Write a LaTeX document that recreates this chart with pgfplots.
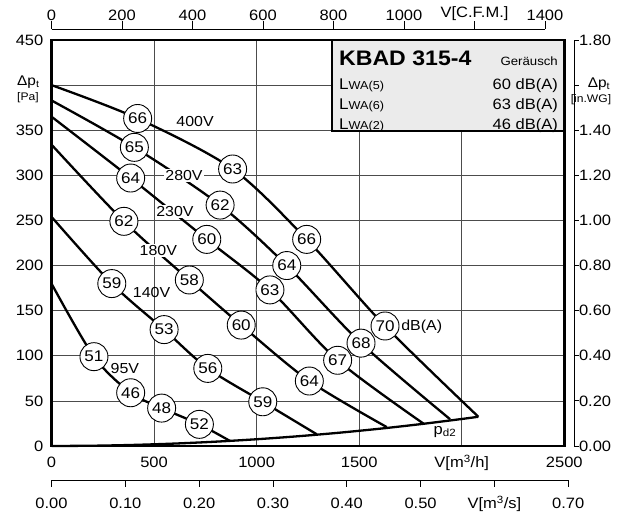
\documentclass[border=0pt]{standalone}
\usepackage{fontspec}
\setmainfont{Liberation Sans}[FakeStretch=1.1]
\usepackage{pgfplots}
\pgfplotsset{compat=1.18}
\newcommand{\fs}[1]{\fontsize{#1}{#1}\selectfont}
\begin{document}
\begin{tikzpicture}[x=1pt,y=1pt]
\useasboundingbox (0,0) rectangle (633,513);
% ---------------- main axis ----------------
\begin{axis}[
  at={(51.5pt,67pt)}, anchor=south west,
  scale only axis, width=512.8pt, height=406pt,
  xmin=0, xmax=2500, ymin=0, ymax=450,
  xtick={0,500,1000,1500,2000,2500},
  xticklabels={0,500,1000,1500,{V[m\textsuperscript{3}/h]},2500},
  ytick={0,50,100,150,200,250,300,350,400,450},
  yticklabels={0,50,100,150,200,250,300,350,{},450},
  major tick length=0pt,
  grid=major,
  major grid style={black!70, line width=0.7pt},
  axis line style={black, line width=2.8pt},
  ticklabel style={font=\fs{15}, inner sep=0pt},
  xticklabel style={anchor=base, yshift=-22pt},
  yticklabel style={anchor=east, xshift=-8pt},
  clip=false,
]
% fan curves
\addplot[line width=2.3pt, smooth, tension=0.5] coordinates {(0,400) (420,363) (883,307) (1244,229) (1626,133) (2081,32.4)};
\addplot[line width=2.3pt, smooth, tension=0.5] coordinates {(0,383) (404,331) (822,267) (1147,200) (1509,114) (1943,29.7)};
\addplot[line width=2.3pt, smooth, tension=0.5] coordinates {(0,365) (386,297) (757,229) (1065,173) (1395,95) (1816,24.4)};
\addplot[line width=2.3pt, smooth, tension=0.5] coordinates {(0,334) (353,249) (672,184) (925,134) (1257,72) (1634,21)};
\addplot[line width=2.3pt, smooth, tension=0.5] coordinates {(0,254) (294,180) (549,129) (762,86) (1030,49) (1293,13)};
\addplot[line width=2.3pt, smooth, tension=0.5] coordinates {(0,180) (207,99) (386,59) (537,42) (721,24) (870,5.6)};
% p_d2
\addplot[line width=2.3pt, smooth] coordinates {(0,0) (200,0.3) (400,1.2) (600,2.69) (800,4.79) (1000,7.48) (1200,10.77) (1400,14.66) (1600,19.15) (1800,24.24) (2000,29.93) (2081,32.4)};
% info box
\draw[line width=2pt, fill=black!8] (axis cs:1369,450) rectangle (axis cs:2500,348.6);
% voltage labels
\node[font=\fs{14.5}] at (axis cs:700,360) {400V};
\node[font=\fs{14.5}, fill=white, inner sep=1.5pt] at (axis cs:646,300) {280V};
\node[font=\fs{14.5}, fill=white, inner sep=1.5pt] at (axis cs:602,260) {230V};
\node[font=\fs{14.5}, fill=white, inner sep=1.5pt] at (axis cs:521,217) {180V};
\node[font=\fs{14.5}] at (axis cs:488,170) {140V};
\node[font=\fs{14.5}] at (axis cs:358,86) {95V};
\node[font=\fs{14.5}] at (axis cs:1805,132) {dB(A)};
\node[font=\fs{15}] at (axis cs:1918,16) {p\textsubscript{d2}};
% sound level circles
\addplot[draw=none, mark=none, nodes near coords, point meta=explicit symbolic,
  every node near coord/.style={circle, draw=black, line width=0.9pt, fill=white,
    minimum size=28pt, inner sep=0pt, anchor=center, font=\fs{15.5}, text=black}]
  table[meta=l] {
x y l
420 363 66
883 307 63
1244 229 66
1626 133 70
404 331 65
822 267 62
1147 200 64
1509 114 68
386 297 64
757 229 60
1065 173 63
1395 95 67
353 249 62
672 184 58
925 134 60
1257 72 64
294 180 59
549 129 53
762 86 56
1030 49 59
207 99 51
386 59 46
537 42 48
721 24 52
};
\end{axis}
% ---------------- top CFM axis ----------------
\begin{axis}[
  at={(51.5pt,483.7pt)}, anchor=north west,
  scale only axis, width=493.5pt, height=5pt,
  xmin=0, xmax=1400, ymin=0, ymax=1,
  axis x line=top, hide y axis,
  axis line style={-, black, line width=0.8pt},
  xtick={0,200,400,600,800,1000,1200,1400},
  xticklabels={0,200,400,600,800,1000,{V[C.F.M.]},1400},
  xtick align=outside, major tick length=8pt,
  tick style={black, line width=0.8pt},
  ticklabel style={font=\fs{15}, inner sep=0pt},
]
\addplot[draw=none] coordinates {(0,0)};
\end{axis}
% ---------------- bottom m3/s axis ----------------
\begin{axis}[
  at={(51.5pt,32.5pt)}, anchor=south west,
  scale only axis, width=516.7pt, height=5pt,
  xmin=0, xmax=0.7, ymin=0, ymax=1,
  axis x line=bottom, hide y axis,
  axis line style={-, black, line width=0.8pt},
  xtick={0,0.1,0.2,0.3,0.4,0.5,0.6,0.7},
  xticklabels={0.00,0.10,0.20,0.30,0.40,0.50,{V[m\textsuperscript{3}/s]},0.70},
  xtick align=outside, major tick length=6.5pt,
  tick style={black, line width=0.8pt},
  ticklabel style={font=\fs{15}, inner sep=0pt},
  xticklabel style={anchor=base, yshift=-22pt},
]
\addplot[draw=none] coordinates {(0,0)};
\end{axis}
% ---------------- right in.WG axis ----------------
\begin{axis}[
  at={(574.3pt,67pt)}, anchor=south east,
  scale only axis, width=5pt, height=406pt,
  xmin=0, xmax=1, ymin=0, ymax=1.8,
  axis y line=right, hide x axis,
  axis line style={-, black, line width=0.8pt},
  ytick={0,0.2,0.4,0.6,0.8,1.0,1.2,1.4,1.6,1.8},
  yticklabels={0.00,0.20,0.40,0.60,0.80,1.00,1.20,1.40,{},1.80},
  ytick align=outside, major tick length=4.5pt,
  tick style={black, line width=0.8pt},
  ticklabel style={font=\fs{15}, inner sep=0pt},
]
\addplot[draw=none] coordinates {(0,0)};
\end{axis}
% axis titles
\node[anchor=west, font=\fs{14}, inner sep=0pt] at (17,431) {Δp\textsubscript{t}};
\node[anchor=west, font=\fs{11}, inner sep=0pt] at (17,415) {[Pa]};
\node[font=\fs{14}, inner sep=0pt] at (599,429) {Δp\textsubscript{t}};
\node[font=\fs{11}, inner sep=0pt] at (591,413) {[in.WG]};
% box texts
\node[anchor=base west, inner sep=0pt, font=\bfseries\fs{21}] at (339,447) {KBAD 315-4};
\node[anchor=base east, inner sep=0pt, font=\fs{12}] at (558,447) {Geräusch};
\node[anchor=base west, inner sep=0pt] at (339,423) {\fs{15.5}L\fs{11.5}WA(5)};
\node[anchor=base east, inner sep=0pt, font=\fs{15}] at (558,423) {60 dB(A)};
\node[anchor=base west, inner sep=0pt] at (339,403) {\fs{15.5}L\fs{11.5}WA(6)};
\node[anchor=base east, inner sep=0pt, font=\fs{15}] at (558,403) {63 dB(A)};
\node[anchor=base west, inner sep=0pt] at (339,383.7) {\fs{15.5}L\fs{11.5}WA(2)};
\node[anchor=base east, inner sep=0pt, font=\fs{15}] at (558,383.7) {46 dB(A)};
\end{tikzpicture}
\end{document}
